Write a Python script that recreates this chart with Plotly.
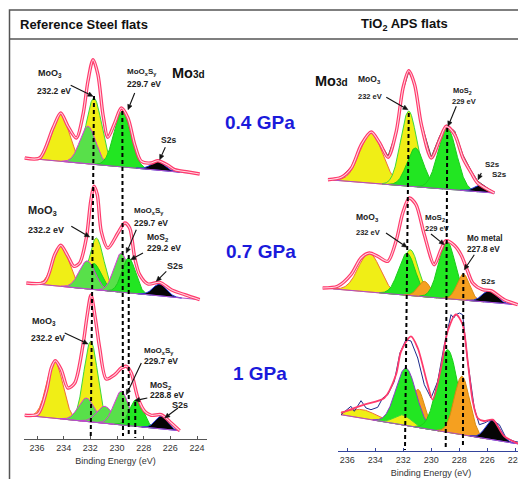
import numpy as np
import plotly.graph_objects as go

# ======================= DATA =======================
TICK_ENERGIES = [236, 234, 232, 230, 228, 226, 224]

# ---------- Reference Steel flats, 0.4 GPa ----------
ref04_env_E = [236.92, 235.80, 234.80, 234.22, 233.68, 233.05, 232.55, 232.18, 231.80, 231.43, 231.05,
               230.68, 230.17, 229.68, 229.18, 228.67, 228.18, 227.43, 226.93, 226.18, 225.67, 224.68, 223.80]
ref04_env_I = [20, 20, 50, 65, 51.7, 40, 63.3, 96.7, 118.3, 103.3, 63.3,
               40.7, 55, 70, 60, 33.3, 16.7, 15, 17.3, 12.7, 8.3, 6, 4]
ref04_bg_E = [236.92, 223.80]
ref04_bg_I = [20, 4]
ref04_peak_name = ["MoO3 3d3/2", "MoO3 3d5/2", "MoOxSy 3d3/2", "MoOxSy 3d5/2", "S2s"]
ref04_peak_center = [234.22, 231.73, 232.18, 229.60, 226.93]
ref04_peak_height = [46.6, 66.3, 37.5, 55.6, 8.9]
ref04_peak_sigma = [0.65, 0.58, 0.60, 0.62, 0.50]

# ---------- Reference Steel flats, 0.7 GPa ----------
ref07_env_E = [236.80, 235.42, 234.67, 234.22, 233.68, 233.23, 232.80, 232.30, 231.97, 231.73, 231.48, 231.18,
               230.68, 229.93, 229.42, 229.05, 228.67, 228.30, 227.68, 226.80, 225.93, 224.92, 223.80]
ref07_env_I = [25, 26, 53.3, 62.7, 51.7, 41.7, 45, 70, 106.7, 121.7, 113.3, 76.7,
               60, 75, 85, 80, 50, 33.3, 24, 25.7, 18.3, 13.3, 8.3]
ref07_bg_E = [236.80, 223.80]
ref07_bg_I = [25, 8.3]
ref07_peak_name = ["MoO3 3d3/2", "MoO3 3d5/2", "MoS2 3d3/2", "MoOxSy 3d3/2", "MoOxSy 3d5/2", "MoS2 3d5/2", "S2s"]
ref07_peak_center = [234.18, 231.55, 231.73, 232.23, 229.68, 229.12, 226.80]
ref07_peak_height = [40, 51.7, 26, 28, 39, 35, 11.8]
ref07_peak_sigma = [0.62, 0.55, 0.55, 0.60, 0.55, 0.50, 0.50]

# ---------- Reference Steel flats, 1 GPa ----------
ref10_env_E = [236.92, 235.93, 235.30, 234.93, 234.63, 234.18, 233.68, 233.17, 232.55, 232.23, 231.95, 231.63,
               231.30, 230.80, 230.17, 229.68, 229.30, 228.93, 228.43, 227.92, 227.43, 226.68, 225.93, 225.30]
ref10_env_I = [23.7, 25, 47.7, 71, 78.3, 69.3, 51, 56, 94.3, 124.3, 144, 121,
               91, 60, 64.3, 71, 72.7, 66, 41, 27.7, 23.7, 24.3, 16, 8.3]
ref10_bg_E = [236.92, 225.30]
ref10_bg_I = [23.7, 8.3]
ref10_peak_name = ["MoO3 3d3/2", "MoO3 3d5/2", "MoOxSy 3d3/2", "MoS2 3d3/2", "MoOxSy 3d5/2", "MoS2 3d5/2", "S2s"]
ref10_peak_center = [234.67, 231.97, 232.30, 230.92, 229.68, 228.55, 226.68]
ref10_peak_height = [57, 80.6, 23.4, 17, 33.6, 26.7, 12.6]
ref10_peak_sigma = [0.60, 0.52, 0.60, 0.60, 0.55, 0.50, 0.45]

# ---------- TiO2 APS flats, 0.4 GPa ----------
tio04_env_E = [237.38, 236.43, 235.71, 235.00, 234.29, 233.69, 233.09, 232.50, 232.02, 231.61, 231.19,
               230.71, 230.00, 229.40, 228.93, 228.33, 227.74, 227.14, 226.69, 225.50]
tio04_env_I = [18.3, 20.7, 30, 53.3, 66, 55, 40.7, 66.7, 110, 127.3, 113.3,
               73.3, 40, 58.3, 71.7, 63.3, 40, 25, 15, 5]
tio04_raw_I = [18.3, 21, 31, 54, 67, 56, 42, 66, 108, 126, 115,
               75, 41, 62, 73, 67, 43, 27, 17, 5]
tio04_bg_E = [237.38, 225.50]
tio04_bg_I = [18.3, 5]
tio04_peak_name = ["MoO3 3d3/2", "MoO3 3d5/2", "MoS2 3d3/2", "MoS2 3d5/2", "S2s"]
tio04_peak_center = [234.29, 231.61, 231.14, 228.86, 226.45]
tio04_peak_height = [50, 75, 38.7, 61, 7.2]
tio04_peak_sigma = [0.82, 0.58, 0.60, 0.66, 0.45]

# ---------- TiO2 APS flats, 0.7 GPa ----------
tio07_env_E = [237.76, 236.69, 235.74, 235.02, 234.43, 233.83, 233.11, 232.52, 232.04, 231.57, 231.09, 230.50,
               229.79, 229.31, 228.95, 228.36, 227.88, 227.40, 227.04, 226.33, 225.74, 224.79, 223.83]
tio07_env_I = [20, 21.7, 33.3, 50, 55, 51.7, 46.7, 66.7, 95, 110, 103.3, 73.3,
               43.3, 58.3, 67.3, 62.7, 53.3, 36.7, 25, 18.3, 17.3, 8.3, 3.3]
tio07_bg_E = [237.76, 223.83]
tio07_bg_I = [20, 3.3]
tio07_peak_name = ["MoO3 3d3/2", "MoO3 3d5/2", "MoS2 3d3/2", "Mo metal 3d3/2", "MoS2 3d5/2", "Mo metal 3d5/2", "S2s"]
tio07_peak_center = [234.43, 231.50, 231.74, 230.50, 228.88, 227.71, 225.85]
tio07_peak_height = [39, 45.8, 42, 15.4, 57.3, 26, 11.6]
tio07_peak_sigma = [0.78, 0.58, 0.60, 0.45, 0.60, 0.45, 0.50]

# ---------- TiO2 APS flats, 1 GPa ----------
tio10_env_E = [236.45, 234.79, 233.36, 232.52, 232.16, 231.45, 230.97, 230.26, 229.90, 229.31, 228.83,
               228.24, 227.76, 227.40, 227.04, 226.69, 226.24, 225.61, 224.79, 223.59]
tio10_env_I = [38, 46.3, 53, 76.3, 99.7, 114.7, 103, 66.3, 51.3, 83, 119.7,
               136.5, 126.3, 89.7, 49.7, 33, 30, 31.3, 14.7, 6.3]
tio10_raw_E = [236.45, 235.74, 235.50, 235.02, 234.66, 234.31, 233.83, 233.47, 233.11, 232.64, 232.24, 231.81,
               231.45, 230.97, 230.50, 230.02, 229.54, 229.07, 228.59, 228.40, 228.24, 227.99, 227.76, 227.40,
               226.93, 226.57, 226.21, 225.74, 225.14, 224.66, 224.07, 223.47]
tio10_raw_I = [36.3, 44.7, 39.7, 50.3, 43, 41.3, 43.7, 53, 56.3, 69.7, 98, 111.3,
               110, 93, 66.3, 53, 69.7, 106.3, 136.3, 133, 136.3, 138, 136.3, 90,
               43, 26.3, 28, 31.3, 26.3, 13, 9.7, 8]
tio10_bg_E = [236.45, 223.47]
tio10_bg_I = [36.3, 6.3]
tio10_peak_name = ["MoO3 3d3/2", "Mo metal 3d3/2", "MoS2 3d3/2", "MoO3 3d5/2", "MoS2 3d5/2", "Mo metal 3d5/2", "S2s"]
tio10_peak_center = [234.90, 230.95, 231.81, 232.04, 228.83, 227.81, 225.61]
tio10_peak_height = [8.6, 38, 57.4, 10, 82.6, 58.4, 20]
tio10_peak_sigma = [1.00, 0.45, 0.72, 0.60, 0.72, 0.55, 0.50]

# ======================= STYLE / LAYOUT =======================
W, H = 526, 479
FONT = "Liberation Sans, Arial, sans-serif"

def fx(px):
    return px / W

def fy(py):
    return 1 - py / H

STYLE = {
    "Y1": ("#f0ee16", "#f0703c"),
    "Y2": ("#f0ee16", "#3cd83c"),
    "G": ("#22e622", "#1ccc1c"),
    "LG": ("#58e04a", "#d83ad8"),
    "GP": ("#22e622", "#8a3cc8"),
    "O": ("#f5a020", "#d88a10"),
    "S": ("#050505", "#2233dd"),
}

LEFT_SCALE = (29.0, 13.333)
RIGHT_SCALE = (339.3, 14.0)

panels = [
    dict(n=1, scale=LEFT_SCALE, xdom=(14, 199), ydom=(35, 170), axis=False,
         env=(ref04_env_E, ref04_env_I), raw=None, bg=(ref04_bg_E, ref04_bg_I),
         peaks=(ref04_peak_center, ref04_peak_height, ref04_peak_sigma),
         kinds=["Y1", "Y2", "LG", "G", "S"], double=True),
    dict(n=2, scale=LEFT_SCALE, xdom=(14, 199), ydom=(165, 300), axis=False,
         env=(ref07_env_E, ref07_env_I), raw=None, bg=(ref07_bg_E, ref07_bg_I),
         peaks=(ref07_peak_center, ref07_peak_height, ref07_peak_sigma),
         kinds=["Y1", "Y2", "G", "LG", "LG", "G", "S"], double=True),
    dict(n=3, scale=LEFT_SCALE, xdom=(16, 199), ydom=(270, 431), axis=True,
         env=(ref10_env_E, ref10_env_I), raw=None, bg=(ref10_bg_E, ref10_bg_I),
         peaks=(ref10_peak_center, ref10_peak_height, ref10_peak_sigma),
         kinds=["Y1", "Y2", "LG", "LG", "LG", "G", "S"], double=True),
    dict(n=4, scale=RIGHT_SCALE, xdom=(312, 516), ydom=(40, 190), axis=False,
         env=(tio04_env_E, tio04_env_I), raw=(tio04_env_E, tio04_raw_I, "#444444"), bg=(tio04_bg_E, tio04_bg_I),
         peaks=(tio04_peak_center, tio04_peak_height, tio04_peak_sigma),
         kinds=["Y1", "Y2", "G", "G", "S"], double=True),
    dict(n=5, scale=RIGHT_SCALE, xdom=(312, 516), ydom=(175, 300), axis=False,
         env=(tio07_env_E, tio07_env_I), raw=None, bg=(tio07_bg_E, tio07_bg_I),
         peaks=(tio07_peak_center, tio07_peak_height, tio07_peak_sigma),
         kinds=["Y1", "Y2", "G", "O", "G", "O", "S"], double=True),
    dict(n=6, scale=RIGHT_SCALE, xdom=(330, 516), ydom=(290, 443), axis=True,
         env=(tio10_env_E, tio10_env_I), raw=(tio10_raw_E, tio10_raw_I, "#1c2a8c"), bg=(tio10_bg_E, tio10_bg_I),
         peaks=(tio10_peak_center, tio10_peak_height, tio10_peak_sigma),
         kinds=["Y1", "O", "GP", "Y2", "G", "O", "S"], double=False),
]

fig = go.Figure()
layout = dict(width=W, height=H, margin=dict(l=0, r=0, t=0, b=0),
              paper_bgcolor="white", plot_bgcolor="rgba(0,0,0,0)", showlegend=False,
              font=dict(family=FONT, color="#222"))

for p in panels:
    n = p["n"]
    xa = "x" if n == 1 else f"x{n}"
    ya = "y" if n == 1 else f"y{n}"
    e0, ppe = p["scale"]
    xr = [236 - (p["xdom"][0] - e0) / ppe, 236 - (p["xdom"][1] - e0) / ppe]
    ytop, ybot = p["ydom"]
    xax = dict(domain=[fx(p["xdom"][0]), fx(p["xdom"][1])], range=xr, anchor=ya,
               showgrid=False, zeroline=False)
    if p["axis"]:
        lc = "#555555" if p["scale"] is LEFT_SCALE else "#34449c"
        xax.update(visible=True, showline=True, linecolor=lc, linewidth=1,
                   ticks="inside", ticklen=3, tickcolor=lc, tickvals=TICK_ENERGIES,
                   tickfont=dict(size=9, color="#333", family=FONT),
                   title=dict(text="Binding Energy (eV)", font=dict(size=9, color="#333", family=FONT),
                              standoff=5))
    else:
        xax.update(visible=False)
    yax = dict(domain=[fy(ybot), fy(ytop)], range=[0, ybot - ytop], anchor=xa, visible=False)
    layout["xaxis" if n == 1 else f"xaxis{n}"] = xax
    layout["yaxis" if n == 1 else f"yaxis{n}"] = yax

    bgE, bgI = p["bg"]
    Eg = np.linspace(bgE[0], bgE[1], 700)
    bg = np.interp(Eg, bgE[::-1], bgI[::-1])
    cs, hs, ss = p["peaks"]
    for c, h, s, k in zip(cs, hs, ss, p["kinds"]):
        m = np.abs(Eg - c) <= 3.3 * s
        Em, bm = Eg[m], bg[m]
        top = bm + h * np.exp(-0.5 * ((Em - c) / s) ** 2)
        fc, lc = STYLE[k]
        fig.add_trace(go.Scatter(x=np.concatenate([Em, Em[::-1]]), y=np.concatenate([top, bm[::-1]]),
                                 fill="toself", fillcolor=fc, mode="lines",
                                 line=dict(color=lc, width=1), xaxis=xa, yaxis=ya, hoverinfo="skip"))
    fig.add_trace(go.Scatter(x=list(bgE), y=list(bgI), mode="lines",
                             line=dict(color="#b050c8", width=1), xaxis=xa, yaxis=ya, hoverinfo="skip"))
    if p["raw"] is not None:
        rE, rI, rc = p["raw"]
        fig.add_trace(go.Scatter(x=rE, y=rI, mode="lines", line=dict(color=rc, width=1),
                                 xaxis=xa, yaxis=ya, hoverinfo="skip"))
    eE, eI = p["env"]
    if p["double"]:
        fig.add_trace(go.Scatter(x=eE, y=eI, mode="lines",
                                 line=dict(color="#ff3a6c", width=3.4, shape="spline", smoothing=0.8),
                                 xaxis=xa, yaxis=ya, hoverinfo="skip"))
        fig.add_trace(go.Scatter(x=eE, y=eI, mode="lines",
                                 line=dict(color="#ffd6e0", width=1.1, shape="spline", smoothing=0.8),
                                 xaxis=xa, yaxis=ya, hoverinfo="skip"))
    else:
        fig.add_trace(go.Scatter(x=eE, y=eI, mode="lines",
                                 line=dict(color="#ff3a6c", width=1.8, shape="spline", smoothing=0.8),
                                 xaxis=xa, yaxis=ya, hoverinfo="skip"))

# ---- dashed reference lines (energies at top / bottom) ----
ref_lines_E = [(231.725, 231.97), (229.60, 229.55), (229.12, 229.12), (228.63, 228.63)]
ref_lines_py = [(88, 430), (103, 428), (247, 428), (394, 430)]
tio_lines_E = [(231.61, 231.88), (228.86, 228.97), (227.71, 227.74)]
tio_lines_py = [(105, 442), (120, 440), (265, 438)]

DASH = "4px,3px"
shapes = []
for (e1, e2), (p1, p2) in zip(ref_lines_E, ref_lines_py):
    shapes.append(dict(type="line", xref="x3", yref="paper", x0=e1, x1=e2, y0=fy(p1), y1=fy(p2),
                       line=dict(color="black", width=2, dash=DASH)))
for (e1, e2), (p1, p2) in zip(tio_lines_E, tio_lines_py):
    shapes.append(dict(type="line", xref="x6", yref="paper", x0=e1, x1=e2, y0=fy(p1), y1=fy(p2),
                       line=dict(color="black", width=2, dash=DASH)))
shapes.append(dict(type="rect", xref="paper", yref="paper", x0=fx(1.5), x1=fx(521), y0=fy(476), y1=fy(2),
                   line=dict(color="#555", width=1.5)))
shapes.append(dict(type="line", xref="paper", yref="paper", x0=fx(1.5), x1=fx(521), y0=fy(31), y1=fy(31),
                   line=dict(color="#555", width=1.5)))


def arrow(tx, ty, hx, hy, head=5.0, half=2.3):
    d = np.hypot(hx - tx, hy - ty)
    ux, uy = (hx - tx) / d, (hy - ty) / d
    bx, by = hx - ux * head, hy - uy * head
    shapes.append(dict(type="line", xref="paper", yref="paper", x0=fx(tx), y0=fy(ty), x1=fx(bx), y1=fy(by),
                       line=dict(color="#111", width=1.1)))
    pts = [(hx, hy), (bx - uy * half, by + ux * half), (bx + uy * half, by - ux * half)]
    path = "M " + " L ".join(f"{fx(a):.5f},{fy(b):.5f}" for a, b in pts) + " Z"
    shapes.append(dict(type="path", xref="paper", yref="paper", path=path,
                       fillcolor="#111", line=dict(color="#111", width=0.5)))


ann = []

def text(t, px, py, size, color="#222", anchor="left"):
    ann.append(dict(text=t, x=fx(px), y=fy(py), xref="paper", yref="paper",
                    xanchor=anchor, yanchor="middle", showarrow=False,
                    font=dict(size=size, color=color, family=FONT, weight="bold")))

# headers
text("Reference Steel flats", 10, 16.5, 13, color="#111")
text("TiO<sub>2</sub> APS flats", 396, 16.5, 13, color="#111", anchor="center")
for lbl, px, py in [("0.4 GPa", 252, 115), ("0.7 GPa", 253, 243), ("1 GPa", 252, 365)]:
    text(lbl, px, py, 19, color="#1a1adb", anchor="center")
text("Mo<span style='font-size:10px'>3d</span>", 162, 65, 14.5, color="#111")
text("Mo<span style='font-size:10px'>3d</span>", 305, 73, 14.5, color="#111")

# reference steel labels
text("MoO<sub>3</sub>", 28, 65, 9)
text("232.2 eV", 27, 83, 8.5)
text("MoO<sub>x</sub>S<sub>y</sub>", 117, 64, 8)
text("229.7 eV", 117, 76, 8.5)
text("S2s", 151, 131.7, 8.5)
arrow(62.7, 77.3, 85, 88.3)
arrow(126.7, 85, 120, 101.7)
arrow(157.3, 139.3, 151.7, 151.7)

text("MoO<sub>3</sub>", 18, 203.3, 11)
text("232.2 eV", 18, 221.7, 9)
text("MoO<sub>x</sub>S<sub>y</sub>", 124, 203.3, 8)
text("229.7 eV", 124, 215, 8.5)
text("MoS<sub>2</sub>", 137, 230, 8.5)
text("229.2 eV", 137, 240, 8.5)
text("S2s", 157, 258.3, 9)
arrow(63.3, 218.3, 81.7, 229)
arrow(128.3, 221.7, 118.3, 245)
arrow(135, 245, 122.7, 251.7)
arrow(158.3, 263.3, 148.3, 273.3)

text("MoO<sub>3</sub>", 22, 313.3, 9)
text("232.2 eV", 21, 330, 8.5)
text("MoO<sub>x</sub>S<sub>y</sub>", 134, 342.7, 8)
text("229.7 eV", 134, 352.7, 8.5)
text("MoS<sub>2</sub>", 140, 377.7, 8.5)
text("228.8 eV", 140, 387.3, 8.5)
text("S2s", 162, 396.7, 9)
arrow(56.7, 325, 80, 336)
arrow(133.3, 355, 118.3, 386.7)
arrow(139.3, 390, 126.7, 392.7)
arrow(170, 400, 156.7, 410)

# TiO2 labels
text("MoO<sub>3</sub>", 348, 71.7, 8.5)
text("232 eV", 348, 88.3, 7.5)
text("MoS<sub>2</sub>", 443, 83.3, 7.5)
text("229 eV", 442, 93.3, 7.5)
text("S2s", 475, 156.7, 8)
text("S2s", 482, 166.7, 8)
arrow(378.3, 89.3, 400, 101.7)
arrow(448.3, 98.3, 440, 118.3)
arrow(473.3, 165, 470, 171.7)

text("MoO<sub>3</sub>", 346, 209.3, 8.5)
text("232 eV", 346, 224, 7.5)
text("MoS<sub>2</sub>", 415, 210, 8)
text("229 eV", 415, 220, 7.5)
text("Mo metal", 457, 231, 8.2)
text("227.8 eV", 457, 241.7, 8.2)
text("S2s", 471, 273.3, 8)
arrow(378, 225, 399, 239.3)
arrow(423, 226, 436.3, 236.7)
arrow(466.3, 246.7, 456.3, 261.7)

layout["annotations"] = ann
layout["shapes"] = shapes
fig.update_layout(**layout)
fig.write_html("out.html")
